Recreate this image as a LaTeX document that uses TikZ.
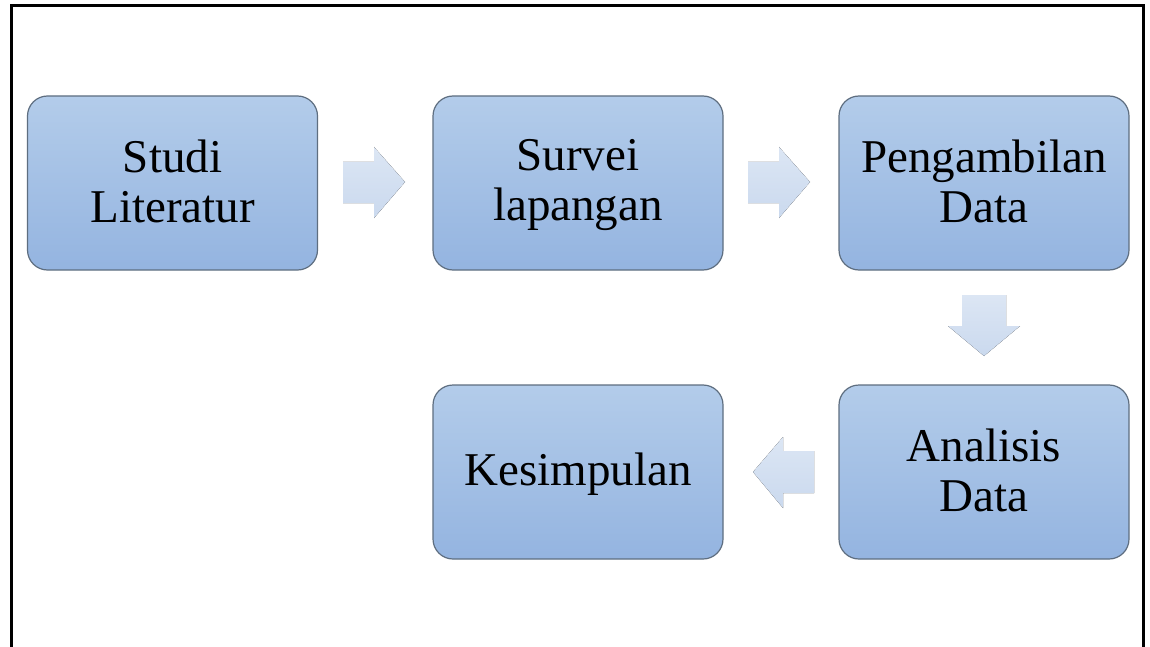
\documentclass[tikz,border=0pt]{standalone}
\usepackage{fontspec}
\setmainfont{Liberation Serif}
\definecolor{boxtop}{HTML}{B3CCEA}
\definecolor{boxbot}{HTML}{94B4E0}
\definecolor{boxline}{HTML}{5E6E80}
\definecolor{arrtop}{HTML}{DCE6F4}
\definecolor{arrbot}{HTML}{CAD9EE}
\newcommand{\stepline}[1]{\rule[-7pt]{0pt}{43pt}#1}
\tikzset{
  stepbox/.style={draw=boxline, line width=1.2pt, rounded corners=20pt,
    top color=boxtop, bottom color=boxbot, minimum width=290pt, minimum height=174pt,
    align=center, font=\fontsize{47}{50}\selectfont, inner sep=0pt},
  flowarrow/.style={top color=arrtop, bottom color=arrbot, draw=none},
  frameline/.style={line width=3pt, black}
}
\begin{document}
\begin{tikzpicture}[x=1pt,y=-1pt]
\useasboundingbox (0,0) rectangle (1150,647);
\fill[white] (0,0) rectangle (1150,647);
\coordinate (fbl) at (11,647);
\coordinate (ftl) at (11,6);
\coordinate (ftr) at (1143,6);
\coordinate (fbr) at (1143,647);
\draw[frameline] (fbl) -- (ftl) -- (ftr) -- (fbr);

\node[stepbox] (s1) at (172.5,183) {\stepline{Studi}\\\stepline{Literatur}};
\node[stepbox] (s2) at (578,183) {\stepline{Survei}\\\stepline{lapangan}};
\node[stepbox] (s3) at (984,183) {\stepline{Pengambilan}\\\stepline{Data}};
\node[stepbox] (s5) at (984,472) {\stepline{Analisis}\\\stepline{Data}};
\node[stepbox] (s4) at (578,472) {\stepline{Kesimpulan}};

% right arrows
\fill[flowarrow] (343,162) -- (374,162) -- (374,147) -- (405,182) -- (374,218) -- (374,203) -- (343,203) -- cycle;
\fill[flowarrow] (748,162) -- (779,162) -- (779,147) -- (810,182) -- (779,218) -- (779,203) -- (748,203) -- cycle;
% down arrow
\fill[flowarrow] (962,295) -- (1006,295) -- (1006,326) -- (1020,326) -- (984,356) -- (948,326) -- (962,326) -- cycle;
% left arrow
\fill[flowarrow] (814,451) -- (783,451) -- (783,437) -- (753,472) -- (783,508) -- (783,493) -- (814,493) -- cycle;
\end{tikzpicture}
\end{document}
